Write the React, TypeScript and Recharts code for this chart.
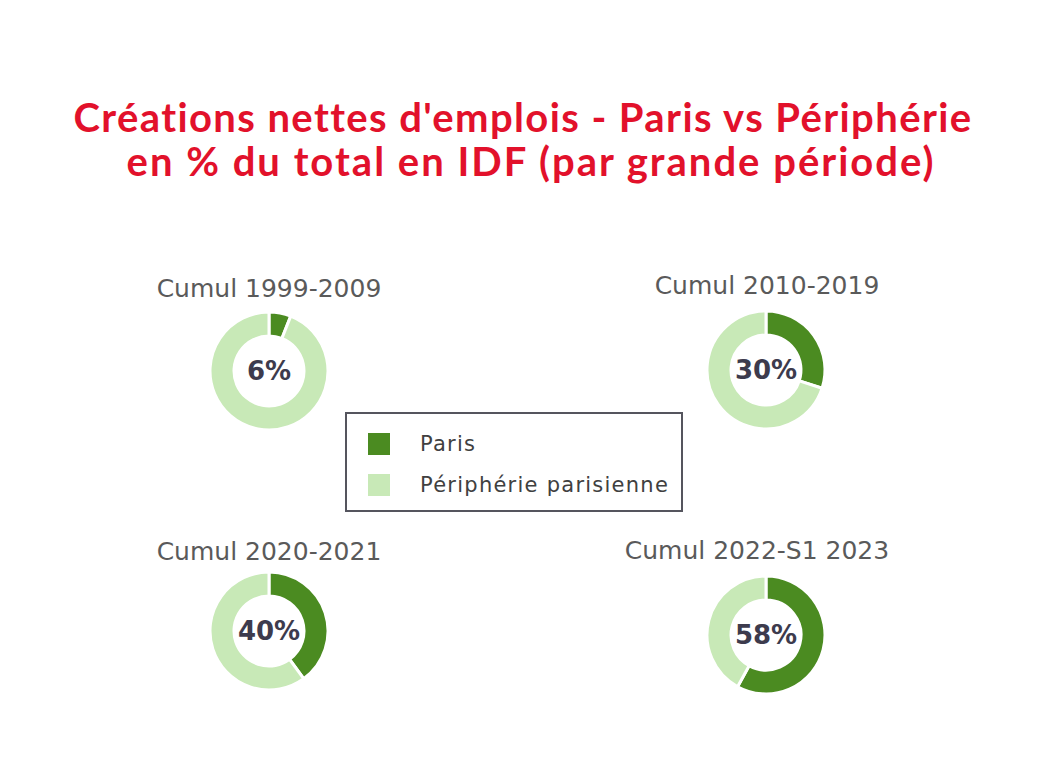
import { PieChart, Pie, Cell, Label } from 'recharts';

const periods = ['Cumul 1999-2009', 'Cumul 2010-2019', 'Cumul 2020-2021', 'Cumul 2022-S1 2023'];
const parisShare = [6, 30, 40, 58];
const peripherieShare = [94, 70, 60, 42];
const seriesNames = ['Paris', 'Périphérie parisienne'];
const seriesColors = ['#4b8b21', '#c8e9b7'];

const titleLines = [
  "Créations nettes d'emplois - Paris vs Périphérie",
  'en % du total en IDF (par grande période)',
];

// donut centres and period-heading centres in the 1056x779 canvas
const centers = [
  { x: 269, y: 371 },
  { x: 766, y: 370 },
  { x: 269, y: 631 },
  { x: 766, y: 635 },
];
const headings = [
  { x: 269, y: 290 },
  { x: 767, y: 287 },
  { x: 269, y: 553 },
  { x: 757, y: 552 },
];

const SIZE = 130;

const LegendBox = () => (
  <div
    style={{
      position: 'absolute',
      left: 345,
      top: 412,
      width: 334,
      height: 96,
      border: '2px solid #55555e',
    }}
  >
    {seriesNames.map((name, i) => (
      <div
        key={name}
        style={{ position: 'absolute', left: 21, top: 18 + i * 41, display: 'flex', alignItems: 'center' }}
      >
        <div style={{ width: 22, height: 22, background: seriesColors[i] }} />
        <span
          style={{
            marginLeft: 30,
            fontSize: 21,
            letterSpacing: 1.25,
            color: '#404040',
            fontFamily: 'DejaVu Sans',
          }}
        >
          {name}
        </span>
      </div>
    ))}
  </div>
);

export default function App() {
  return (
    <div style={{ position: 'relative', width: 1056, height: 779, background: '#fff', overflow: 'hidden' }}>
      <style>{'body{margin:0}'}</style>
      {titleLines.map((t, i) => (
        <div
          key={t}
          style={{
            position: 'absolute',
            left: i === 0 ? 0 : 8,
            top: 95 + i * 44,
            width: 1046,
            height: 44,
            textAlign: 'center',
            color: '#e2112b',
            fontFamily: 'Lato',
            fontWeight: 700,
            fontSize: 40,
            letterSpacing: i === 0 ? 1.4 : 2,
            lineHeight: '44px',
            whiteSpace: 'nowrap',
          }}
        >
          {t}
        </div>
      ))}
      {periods.map((p, i) => (
        <div
          key={p}
          style={{
            position: 'absolute',
            left: headings[i].x - 150,
            top: headings[i].y - 16,
            width: 300,
            textAlign: 'center',
            fontFamily: 'DejaVu Sans',
            fontSize: 25,
            lineHeight: '30px',
            color: '#5a5a5a',
          }}
        >
          {p}
        </div>
      ))}
      {periods.map((p, i) => {
        const data = [
          { name: seriesNames[0], value: parisShare[i] },
          { name: seriesNames[1], value: peripherieShare[i] },
        ];
        return (
          <div
            key={p}
            style={{ position: 'absolute', left: centers[i].x - SIZE / 2, top: centers[i].y - SIZE / 2 }}
          >
            <PieChart width={SIZE} height={SIZE} margin={{ top: 0, right: 0, bottom: 0, left: 0 }}>
              <Pie
                data={data}
                dataKey="value"
                nameKey="name"
                cx="50%"
                cy="50%"
                innerRadius={35}
                outerRadius={59}
                startAngle={90}
                endAngle={-270}
                stroke="#fff"
                strokeWidth={3}
                isAnimationActive={false}
              >
                {data.map((d, j) => (
                  <Cell key={d.name} fill={seriesColors[j]} />
                ))}
                <Label
                  position="center"
                  value={`${parisShare[i]}%`}
                  fill="#3d3b4d"
                  style={{ fontFamily: 'DejaVu Sans', fontWeight: 700, fontSize: 26 }}
                />
              </Pie>
            </PieChart>
          </div>
        );
      })}
      <LegendBox />
    </div>
  );
}
